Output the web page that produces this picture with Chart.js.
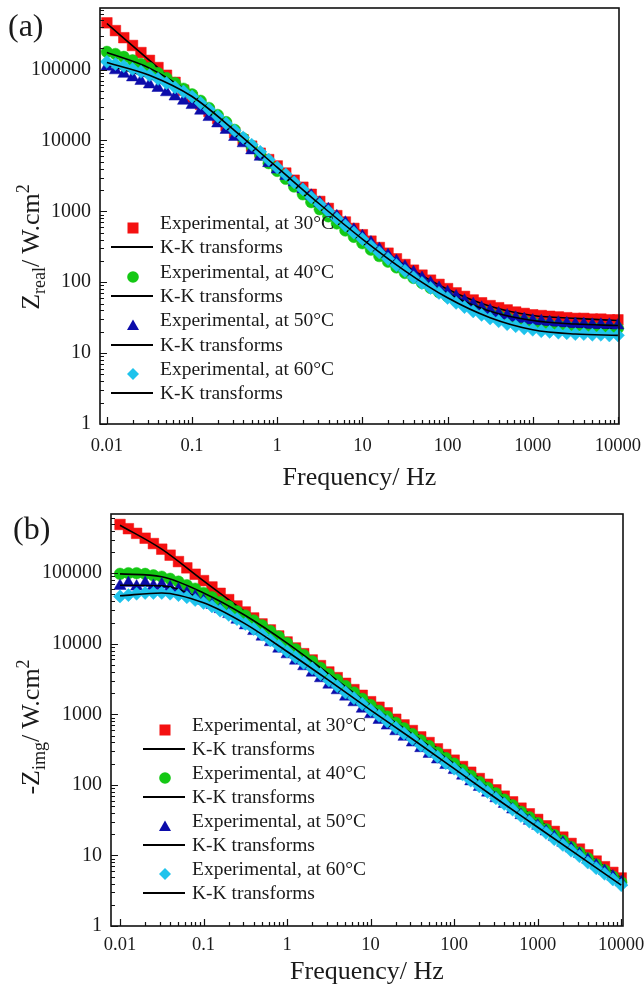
<!DOCTYPE html>
<html>
<head>
<meta charset="utf-8">
<script src="https://cdn.jsdelivr.net/npm/chart.js@4.4.1/dist/chart.umd.min.js"></script>
<style>
  body { margin: 0; background: #fff; }
  #page { position: relative; width: 644px; height: 988px; overflow: hidden;
          font-family: 'Liberation Serif', 'Times New Roman', serif; color: #1a1a1a; }
  .panel { position: absolute; left: 0; width: 644px; height: 494px; }
  .tag { position: absolute; font-size: 32px; line-height: 32px; }
  .ytitle { position: absolute; font-size: 26px; line-height: 30px; white-space: nowrap;
            transform: translate(-50%, -50%) rotate(-90deg); }
  .ytitle sub, .ytitle sup { font-size: 18px; }
  .legend { position: absolute; left: 0; top: 0; font-size: 19.5px; }
  .row { position: absolute; height: 24px; line-height: 24px; white-space: nowrap; }
  .kline { position: absolute; height: 2px; background: #000; }
  .mk { position: absolute; }
</style>
</head>
<body>
<div id="page">
  <div class="panel" style="top:0"><canvas id="chartA" width="644" height="494"></canvas></div>
  <div class="panel" style="top:494px"><canvas id="chartB" width="644" height="494"></canvas></div>
  <div class="tag" style="left:8px; top:9px">(a)</div>
  <div class="tag" style="left:13px; top:512px">(b)</div>
  <div class="ytitle" style="left:31px; top:247px">Z<sub>real</sub>/ W.cm<sup>2</sup></div>
  <div class="ytitle" style="left:31px; top:727px">-Z<sub>img</sub>/ W.cm<sup>2</sup></div>
  <div id="legendA" class="legend"></div>
  <div id="legendB" class="legend"></div>
</div>
<script>
// frequencies of the measured points (Hz)
const freq = [0.01, 0.0126, 0.0158, 0.02, 0.0251, 0.0316, 0.0398, 0.0501, 0.0631, 0.0794,
  0.1, 0.126, 0.158, 0.2, 0.251, 0.316, 0.398, 0.501, 0.631, 0.794,
  1, 1.26, 1.58, 2, 2.51, 3.16, 3.98, 5.01, 6.31, 7.94,
  10, 12.6, 15.8, 20, 25.1, 31.6, 39.8, 50.1, 63.1, 79.4,
  100, 126, 158, 200, 251, 316, 398, 501, 631, 794,
  1000, 1260, 1580, 2000, 2510, 3160, 3980, 5010, 6310, 7940, 10000];

// frequencies of the K-K transform curves (Hz)
const kkFreq = [0.01, 0.0316, 0.1, 0.316, 1, 3.16, 10, 31.6, 100, 316, 1000, 3160, 10000];

const xTickLabels = [0.01, 0.1, 1, 10, 100, 1000, 10000];
const yTickLabels = [1, 10, 100, 1000, 10000, 100000];

const legendLabels = ['Experimental, at 30\u00B0C', 'K-K transforms', 'Experimental, at 40\u00B0C', 'K-K transforms',
  'Experimental, at 50\u00B0C', 'K-K transforms', 'Experimental, at 60\u00B0C', 'K-K transforms'];

// (a) Z real
const zReal30 = [457000, 355000, 282000, 219000, 174000, 135000, 107000, 83200, 66100, 51300,
  40700, 32400, 25700, 20400, 16200, 12900, 10200, 8320, 6610, 5370,
  4370, 3470, 2750, 2190, 1740, 1380, 1100, 871, 708, 575,
  468, 380, 309, 257, 214, 178, 148, 126, 107, 93.3,
  81.3, 70.8, 63.1, 56.2, 51.3, 46.8, 43.7, 40.7, 38.0, 36.3,
  34.7, 33.9, 33.1, 32.4, 31.6, 30.9, 30.9, 30.2, 30.2, 29.5, 29.5];
const zReal40 = [178000, 166000, 151000, 135000, 120000, 105000, 89100, 75900, 64600, 53700,
  44700, 36300, 28800, 22900, 18200, 14100, 10700, 8320, 6310, 4790,
  3720, 2880, 2240, 1740, 1350, 1070, 851, 676, 537, 437,
  355, 288, 234, 195, 162, 135, 115, 97.7, 83.2, 72.4,
  63.1, 55.0, 49.0, 43.7, 39.8, 36.3, 33.9, 31.6, 29.5, 28.2,
  26.9, 25.7, 25.1, 24.5, 24.0, 23.4, 23.4, 22.9, 22.9, 22.4, 22.4];
const zReal50 = [110000, 97700, 87100, 77600, 69200, 61700, 55000, 47900, 41700, 36300,
  31600, 26300, 21400, 17400, 14100, 11200, 9120, 7240, 5890, 4790,
  3890, 3160, 2570, 2040, 1660, 1320, 1070, 851, 692, 550,
  447, 363, 295, 240, 200, 166, 138, 115, 97.7, 83.2,
  72.4, 63.1, 55.0, 49.0, 43.7, 39.8, 36.3, 33.9, 31.6, 30.2,
  28.8, 28.2, 27.5, 26.9, 26.3, 25.7, 25.7, 25.1, 25.1, 25.1, 24.5];
const zReal60 = [129000, 120000, 112000, 102000, 93300, 83200, 74100, 64600, 56200, 49000,
  41700, 33900, 27500, 21900, 17400, 13800, 11000, 8710, 6920, 5370,
  4170, 3310, 2570, 2040, 1580, 1260, 1000, 794, 631, 501,
  407, 324, 263, 214, 174, 145, 117, 97.7, 83.2, 70.8,
  60.3, 51.3, 44.7, 38.9, 34.7, 30.9, 28.2, 25.7, 24.0, 22.4,
  21.4, 20.4, 20.0, 19.5, 19.1, 18.6, 18.6, 18.2, 18.2, 17.8, 17.8];
const kkReal30 = [447000, 135000, 40700, 12900, 4270, 1380, 457, 174, 79.4, 45.7, 33.9, 30.9, 28.8];
const kkReal40 = [174000, 105000, 44700, 14100, 3800, 1100, 363, 138, 63.1, 36.3, 26.9, 23.4, 22.4];
const kkReal50 = [117000, 75900, 37200, 12000, 3800, 1260, 427, 158, 69.2, 38.9, 28.8, 25.7, 24.5];
const kkReal60 = [126000, 83200, 41700, 13800, 4170, 1260, 407, 145, 60.3, 31.6, 21.4, 18.6, 17.8];

// (b) -Z imaginary
const zImg30 = [490000, 427000, 367000, 313000, 263000, 219000, 180000, 146000, 119000, 96600,
  78500, 63800, 51900, 42200, 34300, 28200, 23200, 19100, 15700, 12900,
  10600, 8710, 7240, 5890, 4900, 3980, 3310, 2750, 2240, 1860,
  1510, 1260, 1050, 851, 708, 589, 479, 398, 324, 269,
  224, 182, 151, 123, 102, 85.1, 69.2, 57.5, 46.8, 38.9,
  32.4, 26.3, 21.9, 18.2, 14.8, 12.3, 10.2, 8.32, 6.92, 5.75, 4.79];
const zImg40 = [98000, 100000, 100000, 97700, 93300, 89100, 83200, 75900, 67600, 60300,
  52500, 45700, 38900, 33900, 28800, 25100, 21400, 18200, 15100, 12600,
  10200, 8320, 6920, 5620, 4570, 3720, 3090, 2510, 2040, 1660,
  1350, 1120, 933, 759, 631, 525, 427, 355, 288, 240,
  200, 162, 135, 110, 91.2, 75.9, 61.7, 51.3, 41.7, 34.7,
  28.8, 23.4, 19.5, 16.2, 13.2, 11.0, 9.12, 7.41, 6.17, 5.01, 4.17];
const zImg50 = [66100, 72400, 64600, 72400, 66100, 69200, 63100, 58900, 52500, 46800,
  40700, 35500, 30900, 26300, 21900, 18200, 15100, 12600, 10500, 8510,
  7080, 5750, 4790, 3890, 3240, 2630, 2190, 1780, 1480, 1200,
  1000, 832, 692, 575, 479, 398, 331, 275, 229, 191,
  162, 135, 112, 93.3, 77.6, 64.6, 53.7, 44.7, 37.2, 30.9,
  26.3, 21.9, 18.2, 15.1, 12.6, 10.5, 8.71, 7.24, 6.03, 5.01, 4.17];
const zImg60 = [46800, 49000, 51300, 52500, 52500, 52500, 51300, 49000, 45700, 41700,
  38000, 33900, 29500, 25700, 22400, 19100, 16200, 13500, 11200, 9330,
  7760, 6460, 5370, 4470, 3720, 3020, 2510, 2040, 1700, 1410,
  1150, 955, 794, 646, 537, 447, 363, 302, 251, 204,
  170, 141, 115, 95.5, 79.4, 64.6, 53.7, 44.7, 36.3, 30.2,
  25.1, 20.9, 17.0, 14.1, 11.7, 9.77, 7.94, 6.61, 5.50, 4.57, 3.80];
const kkImg30 = [479000, 219000, 77600, 28200, 10700, 3980, 1510, 589, 224, 85.1, 32.4, 12.3, 4.79];
const kkImg40 = [97700, 89100, 52500, 25100, 10200, 3720, 1350, 525, 200, 75.9, 28.8, 11.0, 4.17];
const kkImg50 = [67600, 66100, 41700, 18600, 7240, 2690, 1020, 407, 162, 64.6, 26.3, 10.5, 4.17];
const kkImg60 = [47900, 52500, 38000, 19100, 7760, 3020, 1150, 447, 170, 64.6, 25.1, 9.77, 3.80];

const markers = [
  { style: 'rect', radius: 7.5, color: '#f41010', svg: '<rect x="0.5" y="0.5" width="11" height="11"/>' },
  { style: 'circle', radius: 5.8, color: '#14c814', svg: '<circle cx="6" cy="6" r="5.8"/>' },
  { style: 'triangle', radius: 7, color: '#0c0caa', svg: '<polygon points="6,0.5 12,11 0,11"/>' },
  { style: 'rectRot', radius: 6.6, color: '#1ec3ec', svg: '<polygon points="6,0 12,6 6,12 0,6"/>' }
];

function pts(xs, ys) {
  return xs.map((x, i) => ({ x: x, y: ys[i] }));
}

function makeDatasets(series, kk) {
  const ds = [];
  series.forEach((s, i) => {
    const m = markers[i];
    ds.push({
      data: pts(freq, s), pointStyle: m.style, pointRadius: m.radius,
      backgroundColor: m.color, borderColor: m.color, borderWidth: 0.5, clip: false
    });
    ds.push({
      data: pts(kkFreq, kk[i]), showLine: true, pointRadius: 0, borderColor: '#000',
      borderWidth: 1.6, cubicInterpolationMode: 'monotone', clip: false
    });
  });
  // later series drawn on top
  ds.forEach((d, i) => { d.order = ds.length - 1 - i; });
  return ds;
}

function isPow10(v) {
  const l = Math.log10(v);
  return Math.abs(l - Math.round(l)) < 1e-6;
}

function logTicks(majors, min, max) {
  const out = [];
  majors.forEach(d => {
    for (let k = 1; k <= 9; k++) {
      const v = k === 1 ? d : +(d * k).toPrecision(6);
      if (v >= min && v <= max) out.push({ value: v });
    }
  });
  return out;
}

// frame box and inward tick marks (left and bottom axes only)
const frameTicks = {
  id: 'frameTicks',
  afterDraw(chart) {
    const { ctx, chartArea: a, scales: { x, y } } = chart;
    ctx.save();
    ctx.strokeStyle = '#111';
    ctx.lineWidth = 1.6;
    ctx.strokeRect(a.left, a.top, a.right - a.left, a.bottom - a.top);
    ctx.lineWidth = 1.2;
    ctx.beginPath();
    x.ticks.forEach(t => {
      const px = Math.round(x.getPixelForValue(t.value)) + 0.5;
      const len = isPow10(t.value) ? 7 : 4;
      ctx.moveTo(px, a.bottom);
      ctx.lineTo(px, a.bottom - len);
    });
    y.ticks.forEach(t => {
      const py = Math.round(y.getPixelForValue(t.value)) + 0.5;
      const len = isPow10(t.value) ? 7 : 4;
      ctx.moveTo(a.left, py);
      ctx.lineTo(a.left + len, py);
    });
    ctx.stroke();
    ctx.restore();
  }
};

function buildChart(id, o) {
  new Chart(document.getElementById(id), {
    type: 'scatter',
    data: { datasets: o.datasets },
    options: {
      responsive: false,
      animation: false,
      events: [],
      layout: { padding: { top: o.padTop, right: o.padRight, left: 0, bottom: 0 } },
      plugins: { legend: { display: false }, tooltip: { enabled: false } },
      scales: {
        x: {
          type: 'logarithmic', min: o.xMin, max: o.xMax,
          afterBuildTicks: s => { s.ticks = logTicks(xTickLabels, o.xMin, o.xMax); },
          afterFit: s => { s.height = o.xAxisH; s.paddingLeft = 0; s.paddingRight = 0; },
          grid: { display: false, drawTicks: false },
          border: { display: false },
          ticks: {
            autoSkip: false, maxRotation: 0, minRotation: 0, padding: o.xPad,
            font: { size: 18.5 }, color: '#1a1a1a',
            callback: v => xTickLabels.includes(v) ? String(v) : ''
          },
          title: { display: true, text: 'Frequency/ Hz', font: { size: 26 }, color: '#1a1a1a', padding: 0 }
        },
        y: {
          type: 'logarithmic', min: 1, max: o.yMax,
          afterBuildTicks: s => { s.ticks = logTicks(yTickLabels, 1, o.yMax); },
          afterFit: s => { s.width = o.yAxisW; s.paddingTop = 0; s.paddingBottom = 0; },
          grid: { display: false, drawTicks: false },
          border: { display: false },
          ticks: {
            autoSkip: false, padding: 9,
            font: { size: 20 }, color: '#1a1a1a',
            callback: v => yTickLabels.includes(v) ? String(v) : ''
          }
        }
      }
    },
    plugins: [frameTicks]
  });
}

Chart.defaults.font.family = "'Liberation Serif', 'Times New Roman', serif";

buildChart('chartA', {
  datasets: makeDatasets([zReal30, zReal40, zReal50, zReal60], [kkReal30, kkReal40, kkReal50, kkReal60]),
  padTop: 8, padRight: 25, yAxisW: 100, xAxisH: 70, xPad: 11,
  xMin: 0.0083, xMax: 10300, yMax: 740000
});

buildChart('chartB', {
  datasets: makeDatasets([zImg30, zImg40, zImg50, zImg60], [kkImg30, kkImg40, kkImg50, kkImg60]),
  padTop: 20, padRight: 21, yAxisW: 111, xAxisH: 62, xPad: 8,
  xMin: 0.0078, xMax: 10500, yMax: 690000
});

// legends inside the plot areas
function buildLegend(id, o) {
  const box = document.getElementById(id);
  legendLabels.forEach((label, i) => {
    const cy = Math.round(o.top + i * o.step);
    if (i % 2 === 0) {
      const m = markers[i / 2];
      const svg = document.createElement('div');
      svg.className = 'mk';
      svg.style.left = (o.markX - 6) + 'px';
      svg.style.top = (cy - 6) + 'px';
      svg.innerHTML = '<svg width="12" height="12" viewBox="0 0 12 12" fill="' + m.color + '">' + m.svg + '</svg>';
      box.appendChild(svg);
    } else {
      const ln = document.createElement('div');
      ln.className = 'kline';
      ln.style.left = o.lineX0 + 'px';
      ln.style.width = (o.lineX1 - o.lineX0) + 'px';
      ln.style.top = (cy - 1) + 'px';
      box.appendChild(ln);
    }
    const row = document.createElement('div');
    row.className = 'row';
    row.style.left = o.textX + 'px';
    row.style.top = (cy - 12) + 'px';
    row.textContent = label;
    box.appendChild(row);
  });
}

buildLegend('legendA', { top: 223, step: 24.3, markX: 133, lineX0: 111, lineX1: 153, textX: 160 });
buildLegend('legendB', { top: 725, step: 24, markX: 165, lineX0: 143, lineX1: 185, textX: 192 });
</script>
</body>
</html>
